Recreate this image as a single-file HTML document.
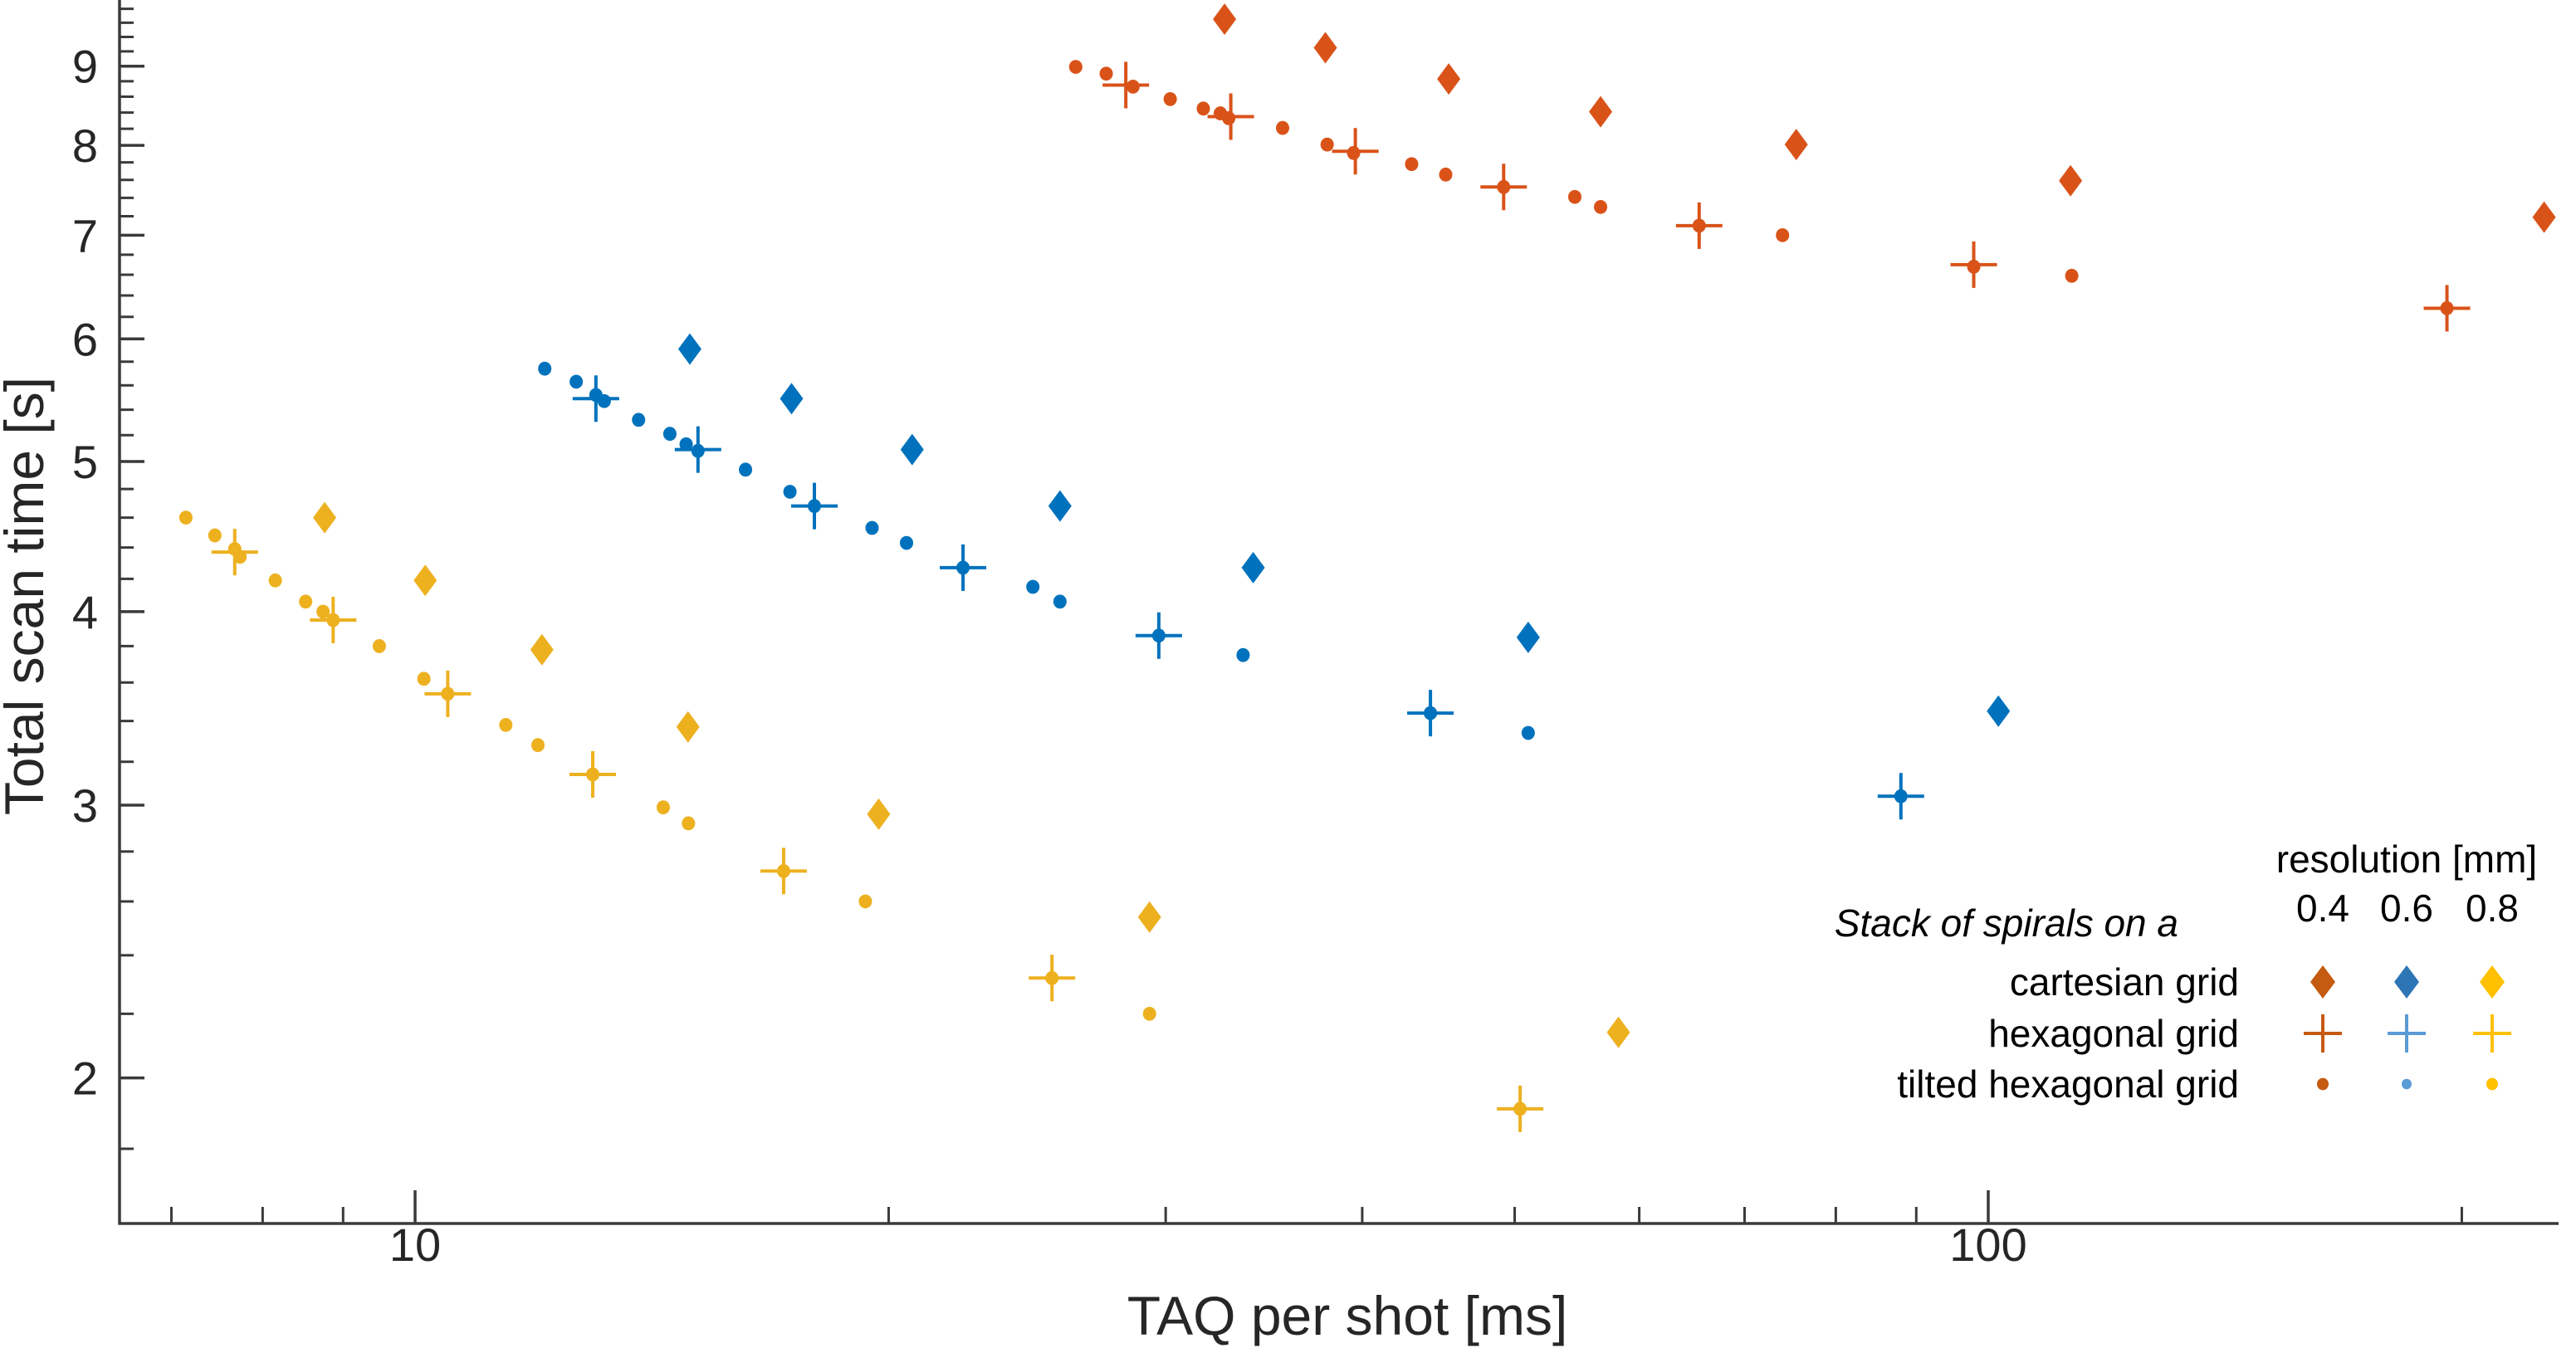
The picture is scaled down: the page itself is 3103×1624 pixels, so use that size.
<!DOCTYPE html>
<html><head><meta charset="utf-8"><style>
html,body{margin:0;padding:0;background:#fff;}
svg{display:block;}
text{font-family:"Liberation Sans",Arial,sans-serif;fill:#262626;}
</style></head><body>
<svg id="chart" width="3103" height="1624" viewBox="0 0 3103 1624" xmlns="http://www.w3.org/2000/svg">
<g id="axes"></g>
<g id="marks"></g>
<g id="legend">
  <text x="2899" y="1051" font-size="46" text-anchor="middle" style="fill:#000">resolution [mm]</text>
  <text x="2798" y="1110" font-size="46" text-anchor="middle" style="fill:#000">0.4</text>
  <text x="2899" y="1110" font-size="46" text-anchor="middle" style="fill:#000">0.6</text>
  <text x="3002" y="1110" font-size="46" text-anchor="middle" style="fill:#000">0.8</text>
  <text x="2624" y="1128" font-size="46" font-style="italic" text-anchor="end" style="fill:#000">Stack of spirals on a</text>
  <text x="2697" y="1199" font-size="46" text-anchor="end" style="fill:#000">cartesian grid</text>
  <text x="2697" y="1261" font-size="46" text-anchor="end" style="fill:#000">hexagonal grid</text>
  <text x="2697" y="1322" font-size="46" text-anchor="end" style="fill:#000">tilted hexagonal grid</text>
</g>
</svg>
<script>
// ---- data ----
const orangeCartX = [32.7,37.9,45.4,56.7,75.5,112.8,225.6];
const orangeCartY = [9.65,9.25,8.83,8.41,8.01,7.59,7.19];
const orangeHexX = [28.3,33.0,39.6,49.2,65.5,97.9,195.7];
const orangeHexY = [8.75,8.35,7.93,7.52,7.10,6.70,6.28];
const orangeTiltX = [26.3,27.5,28.6,30.2,31.7,32.5,32.9,35.6,38.0,39.5,43.0,45.2,49.2,54.6,56.7,65.5,74.0,97.9,113,195.7];
const orangeTiltY = [8.99,8.90,8.73,8.57,8.45,8.39,8.33,8.21,8.01,7.91,7.78,7.66,7.52,7.41,7.30,7.10,7.00,6.68,6.59,6.28];
const blueCartX = [14.95,17.35,20.7,25.7,34.1,51.0,101.5];
const blueCartY = [5.91,5.49,5.09,4.68,4.27,3.85,3.45];
const blueHexX = [13.03,15.13,17.94,22.3,29.7,44.2,88.0];
const blueHexY = [5.49,5.09,4.68,4.27,3.86,3.44,3.04];
const blueTiltX = [12.09,12.66,13.03,13.19,13.87,14.52,14.87,15.13,16.22,17.31,17.94,19.52,20.53,22.3,24.7,25.7,29.7,33.6,44.2,51.0,88.0];
const blueTiltY = [5.74,5.63,5.52,5.47,5.32,5.21,5.13,5.08,4.94,4.78,4.68,4.53,4.43,4.27,4.15,4.06,3.86,3.75,3.44,3.34,3.04];
const yellowCartX = [8.76,10.15,12.04,14.91,19.71,29.3,58.2];
const yellowCartY = [4.60,4.19,3.78,3.37,2.96,2.54,2.14];
const yellowHexX = [7.68,8.87,10.49,12.97,17.15,25.4,50.4];
const yellowHexY = [4.37,3.95,3.54,3.14,2.72,2.32,1.91];
const yellowTiltX = [7.15,7.46,7.68,7.74,8.15,8.52,8.74,8.87,9.49,10.13,10.49,11.42,11.97,12.97,14.38,14.92,17.15,19.33,25.4,29.3,50.4];
const yellowTiltY = [4.60,4.48,4.39,4.34,4.19,4.06,4.00,3.95,3.80,3.62,3.54,3.38,3.28,3.14,2.99,2.92,2.72,2.60,2.32,2.20,1.91];
const yTickLabels = [2,3,4,5,6,7,8,9];
const yMinorTicks = [1.8,2.2,2.4,2.6,2.8,3.2,3.4,3.6,3.8,4.2,4.4,4.6,4.8,5.2,5.4,5.6,5.8,6.2,6.4,6.6,6.8,7.2,7.4,7.6,7.8,8.2,8.4,8.6,8.8,9.2,9.4,9.6,9.8];
const xTickLabels = [10,100];
const xMinorTicks = [7,8,9,20,30,40,50,60,70,80,90,200];

// ---- axis functions ----
const X0 = 500, XDEC = 1895, Y3 = 970, YDEC = 1866;
const AX_L = 144, AX_B = 1474, AX_R = 3082;
function sx(v){ return X0 + XDEC*(Math.log10(v)-1); }
function sy(v){ return Y3 - YDEC*Math.log10(v/3); }

const NS = "http://www.w3.org/2000/svg";
function mk(tag, attrs, parent){
  const e = document.createElementNS(NS, tag);
  for (const k in attrs) e.setAttribute(k, attrs[k]);
  parent.appendChild(e);
  return e;
}
const axes = document.getElementById('axes');
const marks = document.getElementById('marks');

let yl = mk('line',{x1:AX_L,y1:0,x2:AX_L,y2:AX_B+1.5,stroke:'#3a3a3a','stroke-width':3.5},axes);


let xl = mk('line',{x1:AX_L-1.5,y1:AX_B,x2:AX_R,y2:AX_B,stroke:'#3a3a3a','stroke-width':3.5},axes);



yTickLabels.forEach(v=>{
  const y = sy(v);
  const t = mk('line',{x1:AX_L,y1:y,x2:AX_L+30,y2:y,stroke:'#3a3a3a','stroke-width':3.5},axes);
  
  
  const l = mk('text',{x:118,y:y+20,'font-size':56,'text-anchor':'end'},axes);
  l.textContent = v;
  
  
});
yMinorTicks.forEach(v=>{
  const y = sy(v);
  const t = mk('line',{x1:AX_L,y1:y,x2:AX_L+17,y2:y,stroke:'#3a3a3a','stroke-width':3},axes);
  
  
});
xTickLabels.forEach(v=>{
  const x = sx(v);
  const t = mk('line',{x1:x,y1:AX_B,x2:x,y2:AX_B-40,stroke:'#3a3a3a','stroke-width':3.5},axes);
  
  
  const l = mk('text',{x:x,y:1519,'font-size':56,'text-anchor':'middle'},axes);
  l.textContent = v;
  
  
});
xMinorTicks.forEach(v=>{
  const x = sx(v);
  const t = mk('line',{x1:x,y1:AX_B,x2:x,y2:AX_B-20,stroke:'#3a3a3a','stroke-width':3},axes);
  
  
});
const xt = mk('text',{x:1623,y:1608,'font-size':66,'text-anchor':'middle'},axes);
xt.textContent = 'TAQ per shot [ms]';


const yt = mk('text',{x:0,y:0,'font-size':66,'text-anchor':'middle',transform:'translate(52,718) rotate(-90)'},axes);
yt.textContent = 'Total scan time [s]';



function diamond(cx, cy, col, parent, w, h){
  w = w||14; h = h||19;
  return mk('polygon',{points:`${cx},${cy-h} ${cx+w},${cy} ${cx},${cy+h} ${cx-w},${cy}`,fill:col},parent);
}
function cross(cx, cy, col, parent, s){
  s = s||28;
  return mk('path',{d:`M${cx-s},${cy}H${cx+s}M${cx},${cy-s}V${cy+s}`,stroke:col,'stroke-width':4,fill:'none'},parent);
}
function dot(cx, cy, col, parent, r){
  return mk('ellipse',{cx:cx,cy:cy,rx:r||8,ry:(r||8)*1.05,fill:col},parent);
}

const series = [
  {name:'orange',col:'#D95319',cx:orangeCartX,cy:orangeCartY,hx:orangeHexX,hy:orangeHexY,tx:orangeTiltX,ty:orangeTiltY},
  {name:'blue',col:'#0072BD',cx:blueCartX,cy:blueCartY,hx:blueHexX,hy:blueHexY,tx:blueTiltX,ty:blueTiltY},
  {name:'yellow',col:'#EDB120',cx:yellowCartX,cy:yellowCartY,hx:yellowHexX,hy:yellowHexY,tx:yellowTiltX,ty:yellowTiltY}
];
series.forEach(s=>{
  s.cx.forEach((v,i)=>{
    const m = diamond(sx(v), sy(s.cy[i]), s.col, marks);
    
    
  });
});
series.forEach(s=>{
  s.hx.forEach((v,i)=>{
    const m = cross(sx(v), sy(s.hy[i]), s.col, marks);
    
    
  });
});
series.forEach(s=>{
  s.tx.forEach((v,i)=>{
    const m = dot(sx(v), sy(s.ty[i]), s.col, marks);
    
    
  });
});

const legend = document.getElementById('legend');
const legCols = [2798,2899,3002];
const legDia = ['#C55A11','#2E75B6','#FFC000'];
const legCross = ['#C55A11','#5B9BD5','#FFC000'];
const legDot = ['#C55A11','#5B9BD5','#FFC000'];
legCols.forEach((x,i)=>{
  const d = diamond(x,1183,legDia[i],legend,15,20);
  
  
  const c = cross(x,1245,legCross[i],legend,23);
  
  
  const o = dot(x,1306,legDot[i],legend,i===1?6:7);
  
  
});
</script>
</body></html>
